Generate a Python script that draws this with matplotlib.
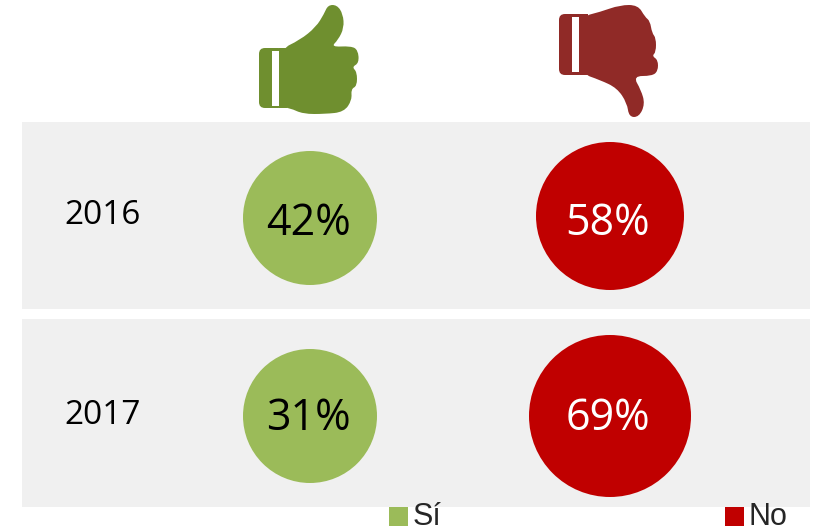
import matplotlib
matplotlib.use("Agg")
import matplotlib.pyplot as plt
from matplotlib.patches import Circle, FancyBboxPatch, PathPatch, Rectangle
from matplotlib.path import Path

years = ["2016", "2017"]
si_values = [42, 31]
no_values = [58, 69]
legend_labels = ["Sí", "No"]

SI_COLOR = "#9bbb59"
NO_COLOR = "#c00000"
BAND_COLOR = "#f0f0f0"
THUMB_UP_COLOR = "#6f8f2f"
THUMB_DOWN_COLOR = "#902a27"

# bubble radii in pixels, the source does not scale them strictly by value
si_radius = [67, 67]
no_radius = [74, 81]
si_center_y = [218, 416]
no_center_y = [216, 416]
si_label_y = [224, 419]
no_label_y = [224, 419]
band_tops = [122, 319]
band_bottoms = [309, 507]
year_y = [216, 415]

# icon outlines in pixels
thumb_up = [(279, 50), (300, 40), (316, 27), (324, 14), (328, 5), (337, 5), (343, 14),
            (344, 28), (338, 40), (331, 47), (351, 46), (358, 50), (359, 63), (352, 67),
            (357, 72), (357, 86), (351, 89), (352, 100), (344, 112), (325, 114), (303, 114),
            (290, 108), (279, 107)]
thumb_down = [(580, 17), (600, 12), (620, 5), (638, 5), (645, 17), (650, 21), (652, 33),
              (656, 38), (656, 52), (652, 56), (658, 60), (658, 71), (652, 76), (633, 76),
              (641, 90), (645, 104), (639, 117), (629, 117), (627, 103), (617, 88),
              (600, 80), (580, 73)]


def smooth_patch(points, color):
    # quadratic curves through the midpoints, the points act as control points
    mids = [((a[0] + b[0]) / 2, (a[1] + b[1]) / 2) for a, b in zip(points, points[1:] + points[:1])]
    verts = [mids[-1]]
    codes = [Path.MOVETO]
    for i, ctrl in enumerate(points):
        verts += [ctrl, mids[i]]
        codes += [Path.CURVE3, Path.CURVE3]
    return PathPatch(Path(verts, codes), facecolor=color, edgecolor="none")


def draw_cuff(ax, x0, y0, x1, y1, slot_x0, slot_x1, slot_y0, slot_y1, color):
    ax.add_patch(FancyBboxPatch((x0 + 5, y0 + 5), x1 - x0 - 5, y1 - y0 - 10,
                                boxstyle="round,pad=5,rounding_size=6",
                                facecolor=color, edgecolor="none"))
    ax.add_patch(Rectangle((x1, y0), 8, y1 - y0, facecolor=color, edgecolor="none"))
    ax.add_patch(Rectangle((slot_x0, slot_y0), slot_x1 - slot_x0, slot_y1 - slot_y0,
                           facecolor="white", edgecolor="none"))


fig = plt.figure(figsize=(8.13, 5.32), dpi=100)
ax = fig.add_axes([0, 0, 1, 1])
ax.set_xlim(0, 813)
ax.set_ylim(532, 0)
ax.axis("off")

for top, bottom in zip(band_tops, band_bottoms):
    ax.add_patch(Rectangle((22, top), 788, bottom - top, facecolor=BAND_COLOR, edgecolor="none"))

ax.add_patch(smooth_patch(thumb_up, THUMB_UP_COLOR))
draw_cuff(ax, 259, 48, 279, 108, 272, 279, 51, 106, THUMB_UP_COLOR)
ax.add_patch(smooth_patch(thumb_down, THUMB_DOWN_COLOR))
draw_cuff(ax, 559, 14, 580, 75, 572, 579, 17, 72, THUMB_DOWN_COLOR)

for i, year in enumerate(years):
    ax.text(64, year_y[i], year, fontsize=24, family="Open Sans", color="black", va="center", ha="left")
    ax.add_patch(Circle((310, si_center_y[i]), si_radius[i], facecolor=SI_COLOR, edgecolor="none"))
    ax.add_patch(Circle((610, no_center_y[i]), no_radius[i], facecolor=NO_COLOR, edgecolor="none"))
    ax.text(308, si_label_y[i], f"{si_values[i]}%", fontsize=31, family="Open Sans",
            color="black", va="center", ha="center")
    ax.text(608, no_label_y[i], f"{no_values[i]}%", fontsize=31, family="Open Sans",
            color="white", va="center", ha="center")

ax.add_patch(Rectangle((389, 507), 19, 19, facecolor=SI_COLOR, edgecolor="none"))
ax.add_patch(Rectangle((725, 507), 19, 19, facecolor=NO_COLOR, edgecolor="none"))
ax.text(413, 525, legend_labels[0], fontsize=22, family="Liberation Sans", color="#262626", va="baseline", ha="left")
ax.text(748, 525, legend_labels[1], fontsize=22, family="Liberation Sans", color="#262626", va="baseline", ha="left")

fig.savefig("out.png", dpi=100)
